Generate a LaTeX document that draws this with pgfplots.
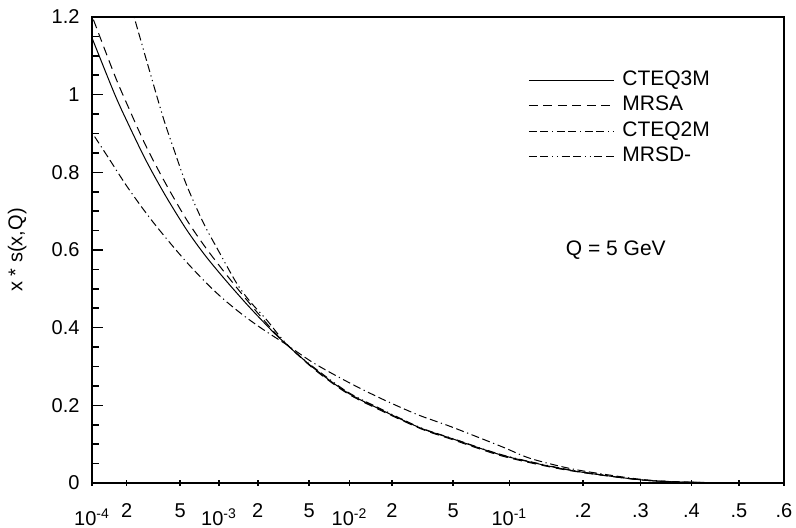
\documentclass[border=0pt]{standalone}
\usepackage{fontspec}
\setmainfont{Liberation Sans}
\usepackage{pgfplots}
\pgfplotsset{compat=1.18}
\pgfplotsset{
  mytrafo/.style={x coord trafo/.code={\pgfmathparse{ln(##1)*0.4342945+2.713*##1}}},
  common/.style={mytrafo, scale only axis, width=346pt, height=233pt,
    xmin=0.0001, xmax=0.6, ymin=0, ymax=1.2, at={(0,0)}, anchor=south west},
}
\begin{document}
\begin{tikzpicture}
\begin{axis}[common,
  axis line style={line width=1pt},
  xtick=\empty,
  ytick={0,0.2,0.4,0.6,0.8,1,1.2},
  yticklabels={0,0.2,0.4,0.6,0.8,1,1.2},
  ytick pos=left,
  minor y tick num=3,
  tick align=inside,
  major tick length=5.5pt,
  minor tick length=3.5pt,
  every tick/.style={black, line width=0.8pt},
  yticklabel style={xshift=-2.7pt},
  ylabel={x * s(x,Q)},
  ylabel style={at={(axis description cs:-0.108,0.5)}, anchor=center},
  legend style={draw=none, fill=none, at={(rel axis cs:0.630,0.8927)}, anchor=north west,
    inner sep=0pt, row sep=0pt, font=\fontsize{10.5}{12.6}\selectfont,
    nodes={inner sep=1pt, text height=8pt, text depth=2.75pt}},
  legend cell align=left,
  legend image code/.code={\draw[#1] (0pt,0pt) -- (42.5pt,0pt);},
]
\addplot[black, line width=0.5pt, smooth] coordinates {
(1e-4,1.17) (1.585e-4,1.005) (2.02e-4,0.928) (2.8e-4,0.831) (3.94e-4,0.742)
(5.74e-4,0.654) (7.97e-4,0.588) (1.14e-3,0.525) (1.68e-3,0.461) (2.26e-3,0.415)
(3.03e-3,0.372) (5.45e-3,0.296) (9.67e-3,0.233) (0.01684,0.189) (0.0316,0.141)
(0.0486,0.115) (0.0915,0.072) (0.153,0.042) (0.204,0.0265) (0.291,0.0095)
(0.355,0.0034) (0.458,0.0005) (0.6,0)};
\addlegendentry{\hspace*{3pt}CTEQ3M}
\addplot[black, line width=0.5pt, smooth, dash pattern=on 4.5pt off 2.75pt] coordinates {
(1e-4,1.228) (1.585e-4,1.054) (2.02e-4,0.972) (2.8e-4,0.868) (3.94e-4,0.774)
(5.74e-4,0.680) (7.97e-4,0.610) (1.14e-3,0.542) (1.68e-3,0.472) (2.26e-3,0.421)
(3.03e-3,0.3735) (5.45e-3,0.294) (9.67e-3,0.231) (0.01684,0.187) (0.0316,0.1395)
(0.0486,0.113) (0.0915,0.070) (0.153,0.0405) (0.204,0.0258) (0.291,0.0093)
(0.355,0.0034) (0.458,0.0005) (0.6,0)};
\addlegendentry{\hspace*{3pt}MRSA}
\addplot[black, line width=0.5pt, smooth, dash pattern=on 4pt off 1.8pt on 4pt off 1.8pt on 0.6pt off 1.8pt] coordinates {
(1e-4,0.917) (1.449e-4,0.835) (1.957e-4,0.768) (2.643e-4,0.707) (3.358e-4,0.662)
(4.52e-4,0.610) (5.74e-4,0.570) (7.29e-4,0.533) (9.27e-4,0.498) (1.176e-3,0.467)
(1.584e-3,0.432) (2.128e-3,0.401) (2.698e-3,0.378) (3.41e-3,0.356) (5.45e-3,0.309)
(9.67e-3,0.261) (0.01684,0.218) (0.03,0.176) (0.0486,0.145) (0.0915,0.094)
(0.1223,0.065) (0.1629,0.044) (0.204,0.030) (0.291,0.011) (0.355,0.0040)
(0.458,0.0006) (0.6,0)};
\addlegendentry{\hspace*{3pt}CTEQ2M}
\addplot[black, line width=0.5pt, smooth, dash pattern=on 4pt off 1.8pt on 4pt off 1.8pt on 0.6pt off 1.8pt on 0.6pt off 1.8pt] coordinates {
(2e-4,1.27) (2.27e-4,1.2) (2.907e-4,1.075) (3.82e-4,0.94) (4.66e-4,0.855)
(5.74e-4,0.77) (7.75e-4,0.672) (1.013e-3,0.600) (1.406e-3,0.515) (1.781e-3,0.468)
(2.397e-3,0.420) (2.948e-3,0.382) (3.41e-3,0.358) (4.07e-3,0.333) (5.45e-3,0.298)
(9.67e-3,0.235) (0.01684,0.191) (0.0316,0.142) (0.0486,0.116) (0.0915,0.073)
(0.153,0.043) (0.204,0.027) (0.291,0.0097) (0.355,0.0035) (0.458,0.0005) (0.6,0)};
\addlegendentry{\hspace*{3pt}MRSD-}
\node[font=\fontsize{10.5}{12.6}\selectfont] at (rel axis cs:0.757,0.499) {Q = 5 GeV};
\end{axis}
\begin{axis}[common,
  hide y axis,
  axis x line*=bottom,
  x axis line style={line width=1pt, -},
  xtick={0.0001,0.0002,0.0005,0.001,0.002,0.005,0.01,0.02,0.05,0.1,0.2,0.3,0.4,0.5,0.6},
  xticklabels={\raisebox{-4.3pt}{10\textsuperscript{-4}},2,5,\raisebox{-4.3pt}{10\textsuperscript{-3}},2,5,\raisebox{-4.3pt}{10\textsuperscript{-2}},2,5,\raisebox{-4.3pt}{10\textsuperscript{-1}},.2,.3,.4,.5,.6},
  tick align=center,
  major tick length=2.6pt,
  every tick/.style={black, line width=0.8pt},
  xticklabel style={text height=7.2pt, yshift=-5.0pt},
]
\end{axis}
\pgfresetboundingbox
\path[use as bounding box] (-46pt,-22.5pt) rectangle (352pt,241.5pt);
\end{tikzpicture}
\end{document}
